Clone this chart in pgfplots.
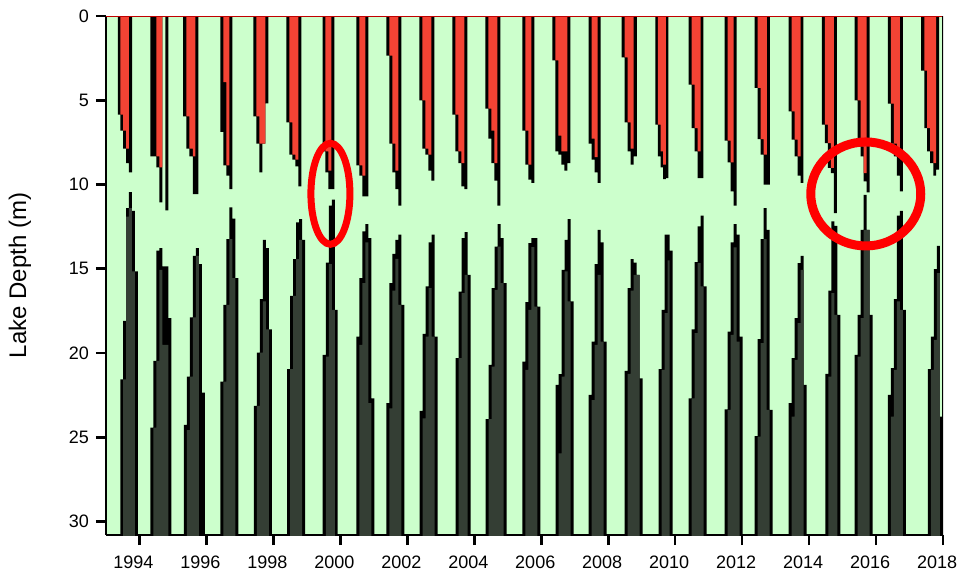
\documentclass[border=0pt]{standalone}
\usepackage{fontspec}
\setmainfont{Liberation Sans}
\usepackage{pgfplots}
\usepackage{pgfplotstable}
\pgfplotsset{compat=1.18}
\definecolor{bgg}{RGB}{204,255,204}
\definecolor{hot}{RGB}{243,67,52}
\definecolor{anox}{RGB}{52,62,52}
\definecolor{topline}{RGB}{192,0,0}

% warm surface layer: x, black-contour depth, red depth
\pgfplotstableread{
x blk red
1993.353 0 0
1993.353 5.85 0
1993.433 6.80 5.85
1993.512 7.87 6.80
1993.602 8.73 7.87
1993.682 9.28 0
1993.781 0 0
1994.329 0 0
1994.329 8.33 0
1994.418 8.33 0
1994.508 8.98 8.33
1994.597 11.06 8.98
1994.687 0 0
1994.777 11.54 0
1994.866 0 0
1995.304 0 0
1995.304 5.95 0
1995.404 7.87 5.95
1995.493 8.33 7.87
1995.593 10.57 8.33
1995.672 10.57 0
1995.762 0 0
1996.419 0 0
1996.419 6.88 0
1996.508 8.86 3.93
1996.598 9.48 8.86
1996.688 10.27 0
1996.777 0 0
1997.404 0 0
1997.404 5.95 0
1997.494 7.58 5.95
1997.583 9.28 7.58
1997.673 7.58 7.58
1997.763 5.18 0
1997.852 0 0
1998.390 0 0
1998.390 6.31 0
1998.479 8.23 6.31
1998.569 8.53 8.23
1998.658 8.92 8.53
1998.748 10.11 0
1998.837 0 0
1999.474 0 0
1999.474 8.03 0
1999.554 9.28 8.03
1999.644 10.27 9.18
1999.733 10.27 0
1999.823 0 0
2000.480 0 0
2000.480 8.86 0
2000.569 9.48 8.86
2000.659 10.71 9.48
2000.748 10.71 0
2000.838 0 0
2001.375 0 0
2001.375 2.35 0
2001.465 7.58 2.35
2001.555 9.28 7.58
2001.644 10.27 9.18
2001.734 11.26 0
2001.823 0 0
2002.361 0 0
2002.361 5.00 0
2002.450 7.87 5.00
2002.540 8.23 7.87
2002.629 9.18 8.23
2002.719 9.77 0
2002.809 0 0
2003.346 0 0
2003.346 5.85 0
2003.436 8.03 5.85
2003.525 8.73 8.03
2003.615 10.11 8.73
2003.704 10.27 0
2003.794 0 0
2004.331 0 0
2004.331 5.50 0
2004.421 7.28 5.50
2004.511 8.73 6.80
2004.600 9.77 8.73
2004.690 11.26 0
2004.779 0 0
2005.436 0 0
2005.436 6.80 0
2005.526 8.82 6.80
2005.615 9.71 8.82
2005.705 9.91 0
2005.795 0 0
2006.332 0 0
2006.332 2.64 0
2006.422 8.03 2.64
2006.511 8.23 7.10
2006.601 8.82 8.03
2006.690 9.18 8.03
2006.780 8.73 0
2006.869 0 0
2007.417 0 0
2007.417 7.58 0
2007.506 8.53 7.28
2007.596 9.28 8.37
2007.686 9.91 0
2007.775 0 0
2008.402 0 0
2008.402 2.45 0
2008.492 6.31 2.45
2008.581 8.03 6.31
2008.671 8.82 7.87
2008.761 8.33 0
2008.860 0 0
2009.408 0 0
2009.408 6.45 0
2009.486 8.33 6.45
2009.564 8.98 8.03
2009.641 9.68 8.82
2009.719 9.62 0
2009.796 0 0
2010.403 0 0
2010.403 4.07 0
2010.492 6.65 4.07
2010.582 8.03 6.65
2010.672 9.62 8.03
2010.761 9.62 0
2010.841 0 0
2011.478 0 0
2011.478 7.40 0
2011.567 8.69 7.40
2011.657 10.41 8.69
2011.747 11.26 0
2011.836 0 0
2012.374 0 0
2012.374 4.27 0
2012.463 7.30 4.27
2012.553 8.23 7.30
2012.642 10.01 8.23
2012.742 10.01 0
2012.832 0 0
2013.389 0 0
2013.389 5.66 0
2013.479 7.34 5.66
2013.568 8.33 7.34
2013.658 9.48 8.33
2013.747 9.91 0
2013.827 0 0
2014.384 0 0
2014.384 6.45 0
2014.474 7.54 6.45
2014.563 9.02 7.54
2014.653 9.32 9.02
2014.742 11.70 0
2014.832 0 0
2015.359 0 0
2015.359 5.00 0
2015.449 7.73 5.00
2015.539 8.33 7.73
2015.628 9.81 9.32
2015.718 10.47 0
2015.807 0 0
2016.355 0 0
2016.355 5.20 0
2016.444 7.58 5.20
2016.534 8.33 7.58
2016.623 9.48 8.33
2016.713 10.41 0
2016.803 0 0
2017.350 0 0
2017.350 3.24 0
2017.440 6.65 3.24
2017.529 8.03 6.65
2017.619 8.73 8.03
2017.709 9.48 8.73
2017.798 9.12 0
2017.887 0 0
}\toptable

% low-oxygen bottom layer: x, black-contour top depth, dark green top depth
\pgfplotstableread{
x blk grn
1993.433 32 32
1993.433 21.56 32
1993.512 18.09 21.56
1993.602 11.40 11.90
1993.682 10.45 11.40
1993.771 11.56 15.16
1993.861 15.16 32
1993.950 32 32
1994.329 32 32
1994.329 24.43 32
1994.418 20.47 24.43
1994.508 13.93 20.47
1994.597 13.77 15.06
1994.687 14.86 19.52
1994.777 14.86 19.52
1994.866 17.93 32
1994.956 32 32
1995.324 32 32
1995.324 24.27 32
1995.414 21.40 24.57
1995.503 17.89 21.40
1995.593 14.23 17.89
1995.682 13.77 14.23
1995.772 14.72 32
1995.862 22.35 32
1995.951 32 32
1996.419 32 32
1996.419 21.70 32
1996.508 17.14 21.70
1996.598 13.24 17.14
1996.688 11.36 13.24
1996.777 12.03 15.56
1996.867 15.56 32
1996.956 32 32
1997.414 32 32
1997.414 23.14 32
1997.504 19.97 23.14
1997.593 16.80 19.97
1997.683 13.28 16.94
1997.772 13.77 18.59
1997.862 18.59 32
1997.952 32 32
1998.409 32 32
1998.409 20.96 32
1998.499 16.61 20.96
1998.589 14.43 16.61
1998.678 12.25 14.43
1998.768 12.05 13.28
1998.857 13.28 32
1998.947 32 32
1999.474 32 32
1999.474 20.11 32
1999.564 14.63 20.21
1999.654 11.26 14.72
1999.743 10.90 17.44
1999.833 17.44 32
1999.922 32 32
2000.480 32 32
2000.480 19.02 32
2000.569 15.56 19.52
2000.659 12.78 15.85
2000.748 12.35 13.44
2000.838 13.18 22.98
2000.928 22.69 32
2001.017 32 32
2001.375 32 32
2001.375 22.98 32
2001.465 15.85 23.28
2001.555 14.11 16.29
2001.644 13.28 14.41
2001.734 12.98 17.14
2001.823 17.14 32
2001.913 32 32
2002.371 32 32
2002.371 23.44 32
2002.460 18.86 23.88
2002.550 16.05 19.02
2002.639 13.44 16.15
2002.729 12.98 19.02
2002.819 19.02 32
2002.908 32 32
2003.446 32 32
2003.446 20.31 32
2003.535 16.35 20.31
2003.625 13.18 16.45
2003.714 12.82 15.36
2003.804 15.36 32
2003.894 32 32
2004.341 32 32
2004.341 23.93 32
2004.431 20.71 23.93
2004.521 16.15 20.81
2004.610 13.68 16.25
2004.700 12.35 13.68
2004.789 13.18 15.85
2004.879 15.85 32
2004.968 32 32
2005.436 32 32
2005.436 20.51 32
2005.526 16.98 21.00
2005.615 13.48 17.44
2005.705 13.18 13.72
2005.795 13.18 17.24
2005.884 17.24 32
2005.974 32 32
2006.432 32 32
2006.432 21.89 32
2006.521 21.26 25.95
2006.611 15.06 21.40
2006.700 13.28 15.16
2006.790 12.05 16.94
2006.879 16.94 32
2006.969 32 32
2007.417 32 32
2007.417 22.49 32
2007.506 19.32 22.79
2007.596 14.72 19.52
2007.686 12.69 15.36
2007.775 13.44 19.32
2007.865 19.32 32
2007.954 32 32
2008.492 32 32
2008.492 21.06 32
2008.581 16.15 21.24
2008.671 14.43 16.29
2008.761 14.63 15.36
2008.850 15.36 15.36
2008.940 21.50 32
2009.029 32 32
2009.507 32 32
2009.507 20.96 32
2009.597 17.44 21.00
2009.686 12.98 17.64
2009.776 12.98 14.50
2009.835 13.93 32
2009.925 32 32
2010.403 32 32
2010.403 22.69 32
2010.492 18.59 22.69
2010.582 14.61 18.82
2010.672 12.49 14.67
2010.761 11.85 16.05
2010.851 16.05 32
2010.940 32 32
2011.478 32 32
2011.478 23.34 32
2011.567 18.73 23.38
2011.657 13.44 18.92
2011.747 12.35 13.73
2011.836 12.98 19.32
2011.926 19.02 32
2012.015 32 32
2012.374 32 32
2012.374 24.93 32
2012.463 19.18 24.96
2012.553 13.24 19.42
2012.642 11.40 13.24
2012.732 12.69 23.38
2012.822 23.38 32
2012.911 32 32
2013.389 32 32
2013.389 22.98 32
2013.479 20.31 23.78
2013.568 17.93 20.41
2013.658 14.67 18.23
2013.747 14.23 15.06
2013.837 21.89 32
2013.926 32 32
2014.484 32 32
2014.484 21.24 32
2014.573 16.29 21.40
2014.663 12.19 16.45
2014.752 12.45 17.74
2014.842 17.74 32
2014.931 32 32
2015.359 32 32
2015.359 20.11 32
2015.449 17.74 20.21
2015.539 12.69 17.93
2015.628 10.61 12.69
2015.718 12.69 12.69
2015.807 17.74 32
2015.897 32 32
2016.355 32 32
2016.355 22.49 32
2016.444 20.90 23.78
2016.534 16.80 21.00
2016.623 11.85 16.94
2016.713 11.56 17.44
2016.803 17.44 32
2016.892 32 32
2017.549 32 32
2017.549 20.96 32
2017.639 19.02 21.00
2017.728 15.02 19.22
2017.818 13.64 15.26
2017.907 23.78 32
2017.997 32 32
}\bottable

\begin{document}
\begin{tikzpicture}
\path[use as bounding box] (-53bp,-20bp) rectangle (427.5bp,267.5bp);
\begin{axis}[
  at={(0,0)}, anchor=south west,
  scale only axis, width=418.5bp, height=259.5bp,
  xmin=1993, xmax=2018, ymin=0, ymax=30.8, y dir=reverse,
  axis x line*=bottom, axis y line*=left,
  axis line style={-, black, line width=1.3bp},
  axis background/.style={fill=bgg},
  xtick={1994,1996,...,2018},
  xticklabels={1994,1996,1998,2000,2002,2004,2006,2008,2010,2012,2014,2016,2018},
  ytick={0,5,10,15,20,25,30},
  yticklabels={0,5,10,15,20,25,30},
  tick align=outside, major tick length=5bp,
  tick style={black, line width=1.3bp},
  tick label style={font=\fontsize{9bp}{10bp}\selectfont},
  xticklabel style={xshift=-3bp, yshift=-2bp},
  ylabel={Lake Depth (m)},
  ylabel style={at={(axis description cs:-0.1027,0.5)}, anchor=center, font=\fontsize{12bp}{14bp}\selectfont},
]
\addplot[const plot, fill=black, draw=none] table[x=x, y=blk] {\toptable};
\addplot[const plot, fill=hot, draw=none] table[x=x, y=red] {\toptable};
\addplot[const plot, fill=black, draw=none] table[x=x, y=blk] {\bottable};
\addplot[const plot, fill=anox, draw=none] table[x=x, y=grn] {\bottable};
\draw[topline, line width=0.8bp] (axis cs:1993,0) -- (axis cs:2018,0);
\draw[black, line width=1.2bp] (axis cs:2018,0) -- (axis cs:2018,30.8);
\draw[red, line width=3.5bp] (axis cs:1999.703,10.55) ellipse [x radius=9.75bp, y radius=25.25bp];
\draw[red, line width=4.5bp] (axis cs:2015.693,10.56) ellipse [x radius=27.5bp, y radius=26bp];
\end{axis}
\end{tikzpicture}
\end{document}
